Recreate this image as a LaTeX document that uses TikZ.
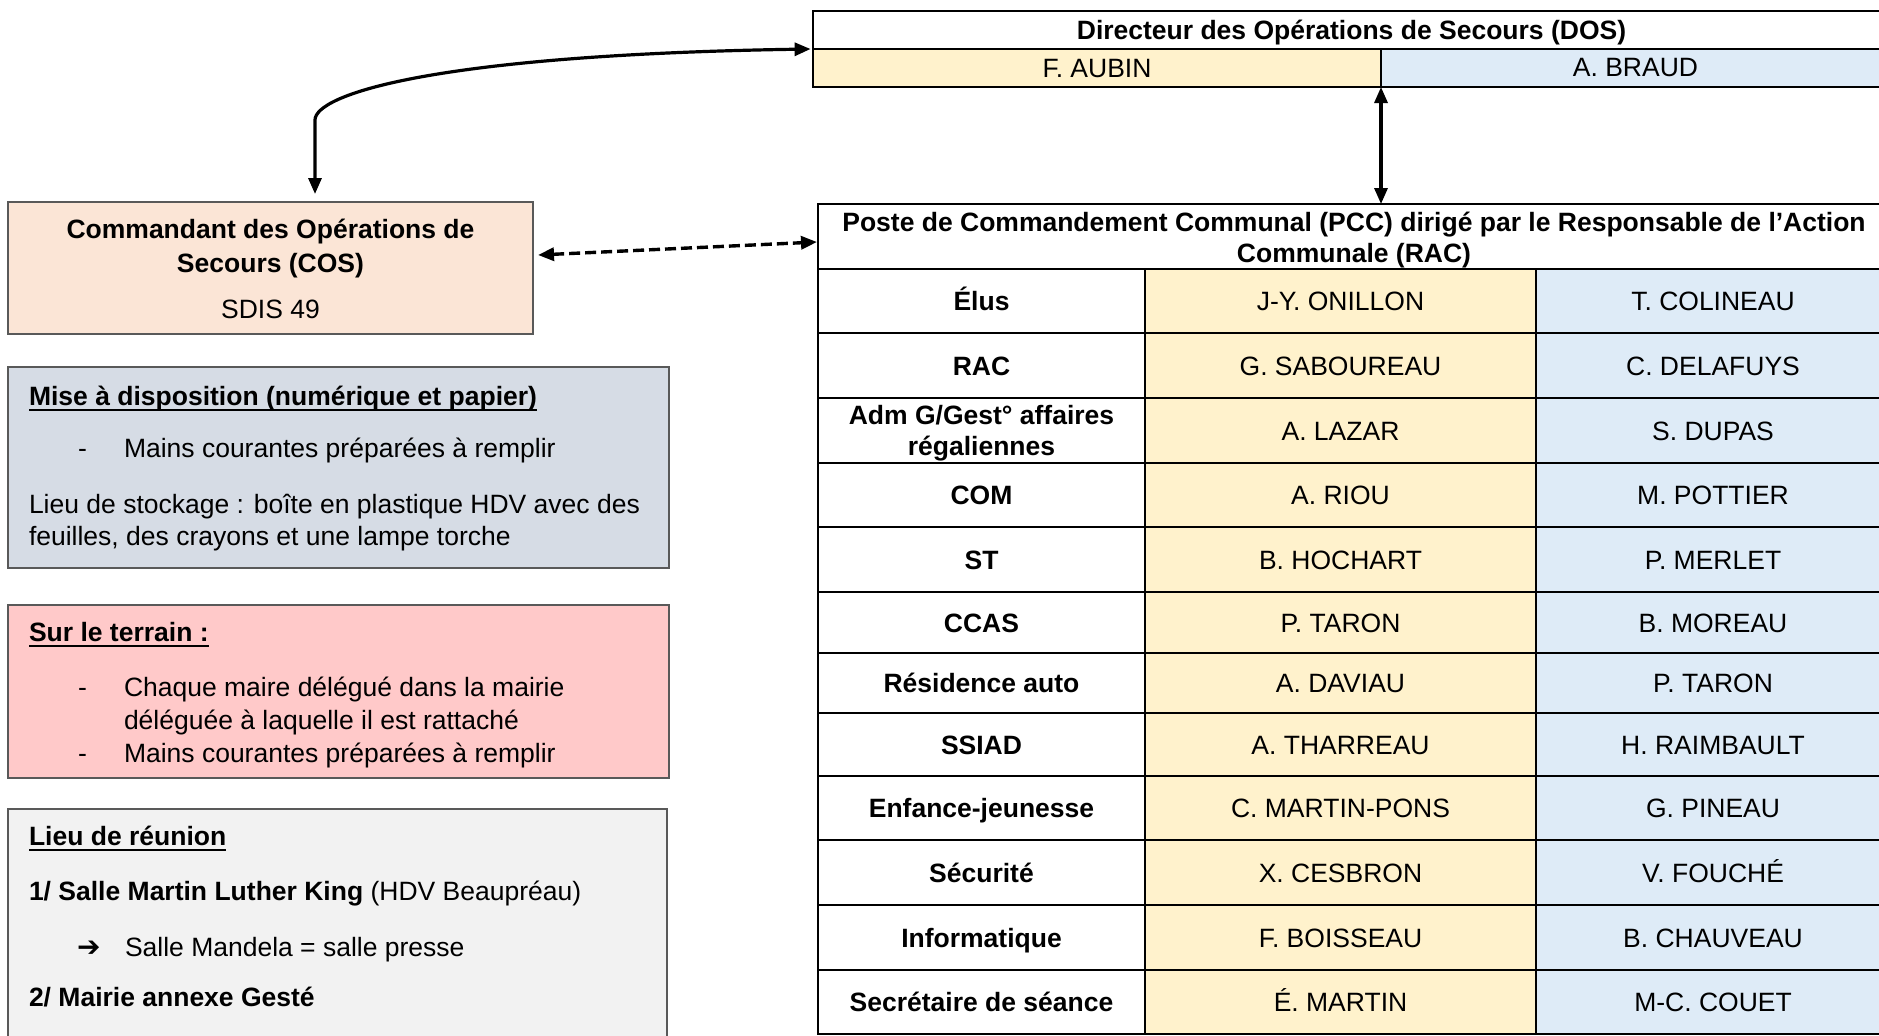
\documentclass[tikz,border=0pt]{standalone}
\usepackage{fontspec}
\setmainfont{Liberation Sans}
\newfontfamily\dejavu{DejaVu Sans}
\usetikzlibrary{arrows.meta,calc,fit}
\definecolor{cosfill}{HTML}{FBE5D6}
\definecolor{misefill}{HTML}{D6DCE5}
\definecolor{surfill}{HTML}{FFC9C9}
\definecolor{lieufill}{HTML}{F2F2F2}
\definecolor{yel}{HTML}{FFF2CC}
\definecolor{blu}{HTML}{DEEBF7}
\definecolor{boxline}{HTML}{595959}
\begin{document}
\begin{tikzpicture}[x=0.5pt,y=-0.5pt,
  txt/.style={inner sep=0pt, outer sep=0pt, font=\fontsize{13.25}{15.25}\selectfont},
  btxt/.style={inner sep=0pt, outer sep=0pt, font=\fontsize{13.25}{15.25}\selectfont\bfseries},
  ctr/.style={anchor=base, yshift=-4.75pt},
  lft/.style={anchor=base west},
  sidebox/.style={draw=boxline, line width=0.6pt, inner sep=0pt, outer sep=0pt},
  cell/.style={draw=black, line width=1.4pt, inner sep=0pt, outer sep=0pt},
  conn/.style={line width=1.6pt, {Triangle[length=8pt,width=6.5pt]}-{Triangle[length=8pt,width=6.5pt]}},
  uline/.style={line width=1pt}
]
\useasboundingbox (0,0) rectangle (1879,1035);
\clip (0,0) rectangle (1879,1035);

% ---------- DOS table ----------
\node[fit={(813,11) (1890,87)}, inner sep=0pt] (dos) {};
\node[cell, fit={(813,11) (1890,49)}] (dosh) {};
\node[cell, fill=yel, fit={(813,49) (1381,87)}] (dosa) {};
\node[cell, fill=blu, fit={(1381,49) (1890,87)}] (dosb) {};
\node[btxt, anchor=base] (dosht) at (1351.5,39) {Directeur des Opérations de Secours (DOS)};
\node[txt, ctr] (dosat) at (dosa) {F. AUBIN};
\node[txt, anchor=base] (dosbt) at (1635.5,76) {A. BRAUD};

% ---------- PCC table ----------
\node[cell, fit={(818,204) (1890,269)}] (pcch) {};
\node[btxt, anchor=base] (pccht1) at (1354,231) {Poste de Commandement Communal (PCC) dirigé par le Responsable de l’Action};
\node[btxt, anchor=base] (pccht2) at (1354,262) {Communale (RAC)};
\foreach \r/\ya/\yb in {1/269/333, 2/333/398, 3/398/463, 4/463/527, 5/527/592, 6/592/653, 7/653/713, 8/713/776, 9/776/840, 10/840/905, 11/905/970, 12/970/1034}{
  \node[cell, fit={(818,\ya) (1145,\yb)}] (r\r c1) {};
  \node[cell, fill=yel, fit={(1145,\ya) (1536,\yb)}] (r\r c2) {};
  \node[cell, fill=blu, fit={(1536,\ya) (1890,\yb)}] (r\r c3) {};
}
\node[btxt, ctr] (t1a) at (r1c1) {Élus};
\node[txt, ctr] (t1b) at (r1c2) {J-Y. ONILLON};
\node[txt, ctr] (t1c) at (r1c3) {T. COLINEAU};
\node[btxt, ctr] (t2a) at (r2c1) {RAC};
\node[txt, ctr] (t2b) at (r2c2) {G. SABOUREAU};
\node[txt, ctr] (t2c) at (r2c3) {C. DELAFUYS};
\node[btxt, anchor=base] (t3a1) at (981.5,424) {Adm G/Gest° affaires};
\node[btxt, anchor=base] (t3a2) at (981.5,455) {régaliennes};
\node[txt, ctr] (t3b) at (r3c2) {A. LAZAR};
\node[txt, ctr] (t3c) at (r3c3) {S. DUPAS};
\node[btxt, ctr] (t4a) at (r4c1) {COM};
\node[txt, ctr] (t4b) at (r4c2) {A. RIOU};
\node[txt, ctr] (t4c) at (r4c3) {M. POTTIER};
\node[btxt, ctr] (t5a) at (r5c1) {ST};
\node[txt, ctr] (t5b) at (r5c2) {B. HOCHART};
\node[txt, ctr] (t5c) at (r5c3) {P. MERLET};
\node[btxt, ctr] (t6a) at (r6c1) {CCAS};
\node[txt, ctr] (t6b) at (r6c2) {P. TARON};
\node[txt, ctr] (t6c) at (r6c3) {B. MOREAU};
\node[btxt, ctr] (t7a) at (r7c1) {Résidence auto};
\node[txt, ctr] (t7b) at (r7c2) {A. DAVIAU};
\node[txt, ctr] (t7c) at (r7c3) {P. TARON};
\node[btxt, ctr] (t8a) at (r8c1) {SSIAD};
\node[txt, ctr] (t8b) at (r8c2) {A. THARREAU};
\node[txt, ctr] (t8c) at (r8c3) {H. RAIMBAULT};
\node[btxt, ctr] (t9a) at (r9c1) {Enfance-jeunesse};
\node[txt, ctr] (t9b) at (r9c2) {C. MARTIN-PONS};
\node[txt, ctr] (t9c) at (r9c3) {G. PINEAU};
\node[btxt, ctr] (t10a) at (r10c1) {Sécurité};
\node[txt, ctr] (t10b) at (r10c2) {X. CESBRON};
\node[txt, ctr] (t10c) at (r10c3) {V. FOUCHÉ};
\node[btxt, ctr] (t11a) at (r11c1) {Informatique};
\node[txt, ctr] (t11b) at (r11c2) {F. BOISSEAU};
\node[txt, ctr] (t11c) at (r11c3) {B. CHAUVEAU};
\node[btxt, ctr] (t12a) at (r12c1) {Secrétaire de séance};
\node[txt, ctr] (t12b) at (r12c2) {É. MARTIN};
\node[txt, ctr] (t12c) at (r12c3) {M-C. COUET};

% ---------- COS box ----------
\node[sidebox, fill=cosfill, fit={(8,202) (533,334)}] (cos) {};
\node[btxt, anchor=base] (cost1) at (270.5,238) {Commandant des Opérations de};
\node[btxt, anchor=base] (cost2) at (270.5,272) {Secours (COS)};
\node[txt, anchor=base] (cost3) at (270.5,318) {SDIS 49};

% ---------- Mise a disposition ----------
\node[sidebox, fill=misefill, fit={(8,367) (669,568)}] (mise) {};
\node[btxt, lft] (m1) at (29,405) {Mise à disposition (numérique et papier)};
\draw[uline] ($(m1.base west)+(0,5)$) -- ($(m1.base east)+(0,5)$);
\node[txt, lft] (m2d) at (78,457) {-};
\node[txt, lft] (m2) at (124,457) {Mains courantes préparées à remplir};
\node[txt, lft] (m3) at (29,513) {Lieu de stockage : boîte en plastique HDV avec des};
\node[txt, lft] (m4) at (29,545) {feuilles, des crayons et une lampe torche};

% ---------- Sur le terrain ----------
\node[sidebox, fill=surfill, fit={(8,605) (669,778)}] (sur) {};
\node[btxt, lft] (s1) at (29,641) {Sur le terrain :};
\draw[uline] ($(s1.base west)+(0,5)$) -- ($(s1.base east)+(0,5)$);
\node[txt, lft] (s2d) at (78,696) {-};
\node[txt, lft] (s2) at (124,696) {Chaque maire délégué dans la mairie};
\node[txt, lft] (s3) at (124,729) {déléguée à laquelle il est rattaché};
\node[txt, lft] (s4d) at (78,762) {-};
\node[txt, lft] (s4) at (124,762) {Mains courantes préparées à remplir};

% ---------- Lieu de reunion ----------
\node[sidebox, fill=lieufill, fit={(8,809) (667,1060)}] (lieu) {};
\node[btxt, lft] (l1) at (29,845) {Lieu de réunion};
\draw[uline] ($(l1.base west)+(0,5)$) -- ($(l1.base east)+(0,5)$);
\node[txt, lft] (l2) at (29,900) {\textbf{1/ Salle Martin Luther King} (HDV Beaupréau)};
\node[inner sep=0pt, outer sep=0pt, lft, font=\dejavu\bfseries\fontsize{14}{16}\selectfont] (l3a) at (77,956) {➔};
\node[txt, lft] (l3) at (125,956) {Salle Mandela = salle presse};
\node[btxt, lft] (l4) at (29,1006) {2/ Mairie annexe Gesté};

% ---------- connectors ----------
\coordinate (cosin) at (315,194);
\coordinate (bend) at (315,120);
\draw[conn] (cosin) -- (bend) .. controls (315,95) and (430,55) .. ([xshift=-1pt]dos.west);
\draw[conn] (dosa.south east) -- (dosa.south east |- pcch.north);
\coordinate (dl) at (538,255);
\coordinate (dr) at (817,242);
\draw[conn, line width=1.7pt, dash pattern=on 5.5pt off 2.5pt] (dl) -- (dr);
\end{tikzpicture}
\end{document}
